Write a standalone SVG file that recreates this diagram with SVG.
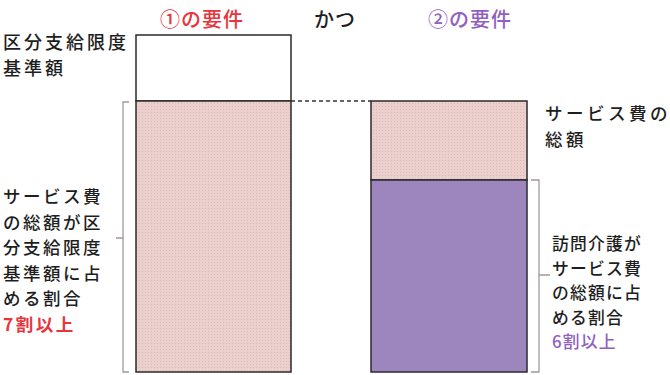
<svg xmlns="http://www.w3.org/2000/svg" width="670" height="375" viewBox="0 0 670 375">
<defs>
<pattern id="dots" width="3" height="3" patternUnits="userSpaceOnUse">
<rect width="3" height="3" fill="#ebd0ce"/>
<rect x="1" y="1" width="1" height="1" fill="#dcb8b6"/>
</pattern>
<style>
text{font-family:"Noto Sans CJK JP","Noto Sans",sans-serif;font-size:20px;fill:#1e1e1e;font-weight:500}
.t{letter-spacing:1px}
.a{font-size:18px;letter-spacing:3px}
.b{font-size:17.5px;letter-spacing:2.5px}
.c{font-size:17.5px;letter-spacing:3.5px}
.d{font-size:16.8px;letter-spacing:1.2px}
.red{fill:#e8343c}
.bold{font-weight:bold}
.pur{fill:#9060bf}
.bar{stroke:#2a2a2a;stroke-width:1.5}
.br{fill:none;stroke:#a09a98;stroke-width:1.3}
</style>
</defs>
<g id="titles">
<text x="160" y="27" class="t red">①の要件</text>
<text x="314" y="27" class="t">かつ</text>
<text x="428" y="27" class="t pur">②の要件</text>
</g>
<g id="bar1">
<rect x="136" y="35" width="155" height="66" fill="#fff" class="bar"/>
<rect x="136" y="101" width="155" height="271" fill="url(#dots)" class="bar"/>
</g>
<g id="bar2">
<rect x="371" y="101" width="156" height="79" fill="url(#dots)" class="bar"/>
<rect x="371" y="180" width="156" height="192" fill="#9c86bd" class="bar"/>
</g>
<g id="connectors">
<line x1="291" y1="101" x2="371" y2="101" stroke="#333" stroke-width="1.3" stroke-dasharray="4,3"/>
<path class="br" d="M129,102 H123 V372 H129 M123,238 H116"/>
<path class="br" d="M531,180 H539 V372 H531 M539,275 H550"/>
</g>
<g id="label-left-top">
<text x="3" y="49" class="a">区分支給限度</text>
<text x="3" y="75" class="a">基準額</text>
</g>
<g id="label-left">
<text x="3" y="203" class="b">サービス費</text>
<text x="3" y="228.5" class="b">の総額が区</text>
<text x="3" y="254" class="b">分支給限度</text>
<text x="3" y="279.5" class="b">基準額に占</text>
<text x="3" y="305" class="b">める割合</text>
<text x="3" y="330.5" class="b red bold">7割以上</text>
</g>
<g id="label-right-top">
<text x="545" y="120" class="c">サービス費の</text>
<text x="545" y="145.5" class="c">総額</text>
</g>
<g id="label-right">
<text x="552" y="250" class="d">訪問介護が</text>
<text x="552" y="274.5" class="d">サービス費</text>
<text x="552" y="299" class="d">の総額に占</text>
<text x="552" y="323.5" class="d">める割合</text>
<text x="552" y="348" class="d pur">6割以上</text>
</g>
</svg>
